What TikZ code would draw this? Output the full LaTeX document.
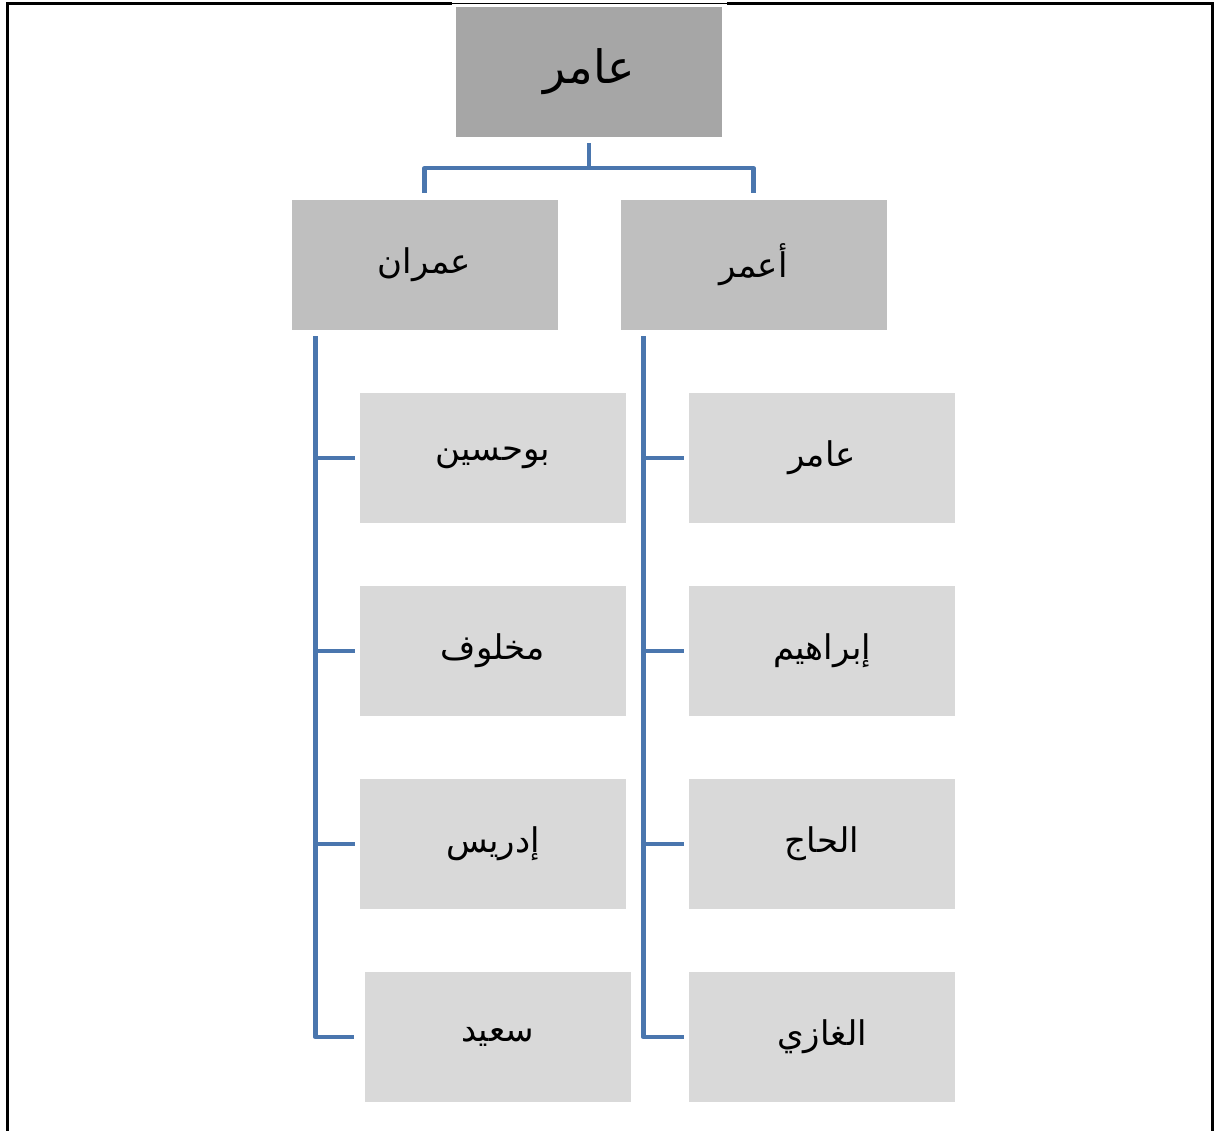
\documentclass[tikz,border=0pt]{standalone}
\usepackage{fontspec}
\newfontfamily\arabicfont[Script=Arabic]{DejaVu Sans}
\TeXXeTstate=1
\definecolor{topfill}{HTML}{A6A6A6}
\definecolor{midfill}{HTML}{BFBFBF}
\definecolor{lowfill}{HTML}{D9D9D9}
\definecolor{connblue}{HTML}{4A76AE}
\tikzset{
  box/.style={rectangle, inner sep=0pt, minimum width=266pt, minimum height=130pt, text=black},
  topbox/.style={box, fill=topfill, font=\arabicfont\fontsize{46}{52}\selectfont},
  midbox/.style={box, fill=midfill, font=\arabicfont\fontsize{34}{40}\selectfont},
  lowbox/.style={box, fill=lowfill, font=\arabicfont\fontsize{34}{40}\selectfont},
  conn/.style={draw=connblue, line width=4.5pt},
  frameline/.style={draw=black, line width=3pt}
}
\begin{document}
\begin{tikzpicture}[x=1pt,y=-1pt]
\useasboundingbox (0,0) rectangle (1217,1131);
% frame
\draw[frameline] (7,1131) -- (7,4) -- (452,4);
\draw[frameline] (727,4) -- (1212,4) -- (1212,1131);
\draw[black, line width=1pt] (452,4) -- (727,4);
% nodes
\node[topbox] (root) at (589,72) {\beginR عامر\endR};
\node[midbox] (imran) at (424.5,265) {\beginR عمران\endR};
\node[midbox] (aamr) at (753.5,265) {\beginR أعمر\endR};
\node[lowbox] (l1) at (493,458) {\beginR بوحسين\endR};
\node[lowbox] (l2) at (493,651) {\beginR مخلوف\endR};
\node[lowbox] (l3) at (493,844) {\beginR إدريس\endR};
\node[lowbox] (l4) at (497.5,1037) {\beginR سعيد\endR};
\node[lowbox] (r1) at (822,458) {\beginR عامر\endR};
\node[lowbox] (r2) at (822,651) {\beginR إبراهيم\endR};
\node[lowbox] (r3) at (822,844) {\beginR الحاج\endR};
\node[lowbox] (r4) at (822,1037) {\beginR الغازي\endR};
% connectors from root
\coordinate (rootjoint) at ([yshift=-31pt]root.south);
\draw[conn, line join=round] ([yshift=-6pt]root.south) -- (rootjoint);
\draw[conn, line join=round] ([yshift=7pt]imran.north) |- (rootjoint) -| ([yshift=7pt]aamr.north);
% left branch
\coordinate (lv) at ([shift={(24pt,-6pt)}]imran.south west);
\draw[conn, line join=round] (lv) |- ([xshift=-10pt]l4.west);
\draw[conn] (lv |- l1.west) -- ([xshift=-5pt]l1.west);
\draw[conn] (lv |- l2.west) -- ([xshift=-5pt]l2.west);
\draw[conn] (lv |- l3.west) -- ([xshift=-5pt]l3.west);
% right branch
\coordinate (rv) at ([shift={(23pt,-6pt)}]aamr.south west);
\draw[conn, line join=round] (rv) |- ([xshift=-5pt]r4.west);
\draw[conn] (rv |- r1.west) -- ([xshift=-5pt]r1.west);
\draw[conn] (rv |- r2.west) -- ([xshift=-5pt]r2.west);
\draw[conn] (rv |- r3.west) -- ([xshift=-5pt]r3.west);
\end{tikzpicture}
\end{document}
